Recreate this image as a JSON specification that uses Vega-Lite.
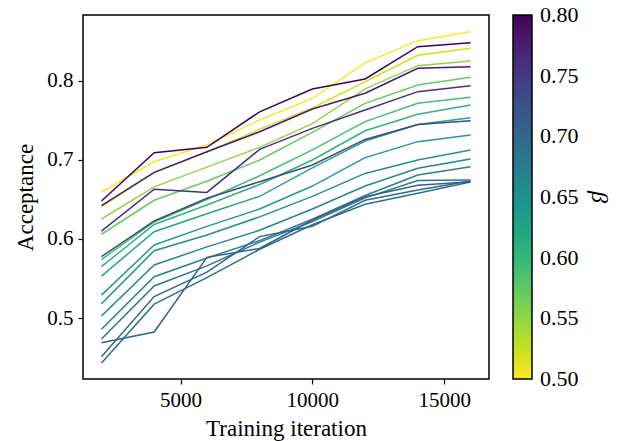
{
  "$schema": "https://vega.github.io/schema/vega-lite/v6.json",
  "width": 406,
  "height": 364,
  "autosize": {"type": "none"},
  "padding": {"left": 83, "top": 15, "right": 129, "bottom": 62},
  "background": "white",
  "config": {
    "font": "Liberation Serif",
    "view": {"stroke": "black", "strokeWidth": 1.5},
    "axis": {
      "domain": false,
      "grid": false,
      "ticks": true,
      "tickColor": "black",
      "tickSize": 5,
      "tickWidth": 1.2,
      "labelColor": "black",
      "labelFont": "Liberation Serif",
      "labelFontSize": 21,
      "labelPadding": 5,
      "titleFont": "Liberation Serif",
      "titleFontSize": 23,
      "titleFontWeight": "normal",
      "titleColor": "black"
    },
    "legend": {"padding": 0}
  },
  "data": {
    "values": [
      {"beta": 0.50, "iter": 2000, "acc": 0.6595}, {"beta": 0.50, "iter": 4000, "acc": 0.6978}, {"beta": 0.50, "iter": 6000, "acc": 0.719}, {"beta": 0.50, "iter": 8000, "acc": 0.7506}, {"beta": 0.50, "iter": 10000, "acc": 0.778}, {"beta": 0.50, "iter": 12000, "acc": 0.823}, {"beta": 0.50, "iter": 14000, "acc": 0.851}, {"beta": 0.50, "iter": 16000, "acc": 0.8624},
      {"beta": 0.52, "iter": 2000, "acc": 0.641}, {"beta": 0.52, "iter": 4000, "acc": 0.684}, {"beta": 0.52, "iter": 6000, "acc": 0.710}, {"beta": 0.52, "iter": 8000, "acc": 0.739}, {"beta": 0.52, "iter": 10000, "acc": 0.766}, {"beta": 0.52, "iter": 12000, "acc": 0.799}, {"beta": 0.52, "iter": 14000, "acc": 0.8325}, {"beta": 0.52, "iter": 16000, "acc": 0.8414},
      {"beta": 0.55, "iter": 2000, "acc": 0.6253}, {"beta": 0.55, "iter": 4000, "acc": 0.666}, {"beta": 0.55, "iter": 6000, "acc": 0.691}, {"beta": 0.55, "iter": 8000, "acc": 0.716}, {"beta": 0.55, "iter": 10000, "acc": 0.746}, {"beta": 0.55, "iter": 12000, "acc": 0.790}, {"beta": 0.55, "iter": 14000, "acc": 0.8194}, {"beta": 0.55, "iter": 16000, "acc": 0.8253},
      {"beta": 0.57, "iter": 2000, "acc": 0.606}, {"beta": 0.57, "iter": 4000, "acc": 0.649}, {"beta": 0.57, "iter": 6000, "acc": 0.673}, {"beta": 0.57, "iter": 8000, "acc": 0.700}, {"beta": 0.57, "iter": 10000, "acc": 0.735}, {"beta": 0.57, "iter": 12000, "acc": 0.7717}, {"beta": 0.57, "iter": 14000, "acc": 0.795}, {"beta": 0.57, "iter": 16000, "acc": 0.8047},
      {"beta": 0.59, "iter": 2000, "acc": 0.574}, {"beta": 0.59, "iter": 4000, "acc": 0.6215}, {"beta": 0.59, "iter": 6000, "acc": 0.650}, {"beta": 0.59, "iter": 8000, "acc": 0.680}, {"beta": 0.59, "iter": 10000, "acc": 0.7127}, {"beta": 0.59, "iter": 12000, "acc": 0.7485}, {"beta": 0.59, "iter": 14000, "acc": 0.7718}, {"beta": 0.59, "iter": 16000, "acc": 0.7794},
      {"beta": 0.605, "iter": 2000, "acc": 0.565}, {"beta": 0.605, "iter": 4000, "acc": 0.6184}, {"beta": 0.605, "iter": 6000, "acc": 0.643}, {"beta": 0.605, "iter": 8000, "acc": 0.669}, {"beta": 0.605, "iter": 10000, "acc": 0.700}, {"beta": 0.605, "iter": 12000, "acc": 0.737}, {"beta": 0.605, "iter": 14000, "acc": 0.7578}, {"beta": 0.605, "iter": 16000, "acc": 0.7696},
      {"beta": 0.62, "iter": 2000, "acc": 0.553}, {"beta": 0.62, "iter": 4000, "acc": 0.6092}, {"beta": 0.62, "iter": 6000, "acc": 0.632}, {"beta": 0.62, "iter": 8000, "acc": 0.654}, {"beta": 0.62, "iter": 10000, "acc": 0.690}, {"beta": 0.62, "iter": 12000, "acc": 0.724}, {"beta": 0.62, "iter": 14000, "acc": 0.745}, {"beta": 0.62, "iter": 16000, "acc": 0.7535},
      {"beta": 0.635, "iter": 2000, "acc": 0.529}, {"beta": 0.635, "iter": 4000, "acc": 0.5924}, {"beta": 0.635, "iter": 6000, "acc": 0.616}, {"beta": 0.635, "iter": 8000, "acc": 0.638}, {"beta": 0.635, "iter": 10000, "acc": 0.667}, {"beta": 0.635, "iter": 12000, "acc": 0.703}, {"beta": 0.635, "iter": 14000, "acc": 0.7232}, {"beta": 0.635, "iter": 16000, "acc": 0.7316},
      {"beta": 0.65, "iter": 2000, "acc": 0.518}, {"beta": 0.65, "iter": 4000, "acc": 0.5852}, {"beta": 0.65, "iter": 6000, "acc": 0.605}, {"beta": 0.65, "iter": 8000, "acc": 0.628}, {"beta": 0.65, "iter": 10000, "acc": 0.654}, {"beta": 0.65, "iter": 12000, "acc": 0.683}, {"beta": 0.65, "iter": 14000, "acc": 0.700}, {"beta": 0.65, "iter": 16000, "acc": 0.7127},
      {"beta": 0.66, "iter": 2000, "acc": 0.5025}, {"beta": 0.66, "iter": 4000, "acc": 0.5671}, {"beta": 0.66, "iter": 6000, "acc": 0.590}, {"beta": 0.66, "iter": 8000, "acc": 0.611}, {"beta": 0.66, "iter": 10000, "acc": 0.638}, {"beta": 0.66, "iter": 12000, "acc": 0.667}, {"beta": 0.66, "iter": 14000, "acc": 0.6895}, {"beta": 0.66, "iter": 16000, "acc": 0.7013},
      {"beta": 0.67, "iter": 2000, "acc": 0.4857}, {"beta": 0.67, "iter": 4000, "acc": 0.5523}, {"beta": 0.67, "iter": 6000, "acc": 0.576}, {"beta": 0.67, "iter": 8000, "acc": 0.598}, {"beta": 0.67, "iter": 10000, "acc": 0.625}, {"beta": 0.67, "iter": 12000, "acc": 0.655}, {"beta": 0.67, "iter": 14000, "acc": 0.681}, {"beta": 0.67, "iter": 16000, "acc": 0.6915},
      {"beta": 0.68, "iter": 2000, "acc": 0.4734}, {"beta": 0.68, "iter": 4000, "acc": 0.5405}, {"beta": 0.68, "iter": 6000, "acc": 0.566}, {"beta": 0.68, "iter": 8000, "acc": 0.596}, {"beta": 0.68, "iter": 10000, "acc": 0.622}, {"beta": 0.68, "iter": 12000, "acc": 0.652}, {"beta": 0.68, "iter": 14000, "acc": 0.674}, {"beta": 0.68, "iter": 16000, "acc": 0.6747},
      {"beta": 0.69, "iter": 2000, "acc": 0.443}, {"beta": 0.69, "iter": 4000, "acc": 0.5175}, {"beta": 0.69, "iter": 6000, "acc": 0.551}, {"beta": 0.69, "iter": 8000, "acc": 0.587}, {"beta": 0.69, "iter": 10000, "acc": 0.618}, {"beta": 0.69, "iter": 12000, "acc": 0.644}, {"beta": 0.69, "iter": 14000, "acc": 0.658}, {"beta": 0.69, "iter": 16000, "acc": 0.672},
      {"beta": 0.70, "iter": 2000, "acc": 0.451}, {"beta": 0.70, "iter": 4000, "acc": 0.5272}, {"beta": 0.70, "iter": 6000, "acc": 0.558}, {"beta": 0.70, "iter": 8000, "acc": 0.603}, {"beta": 0.70, "iter": 10000, "acc": 0.616}, {"beta": 0.70, "iter": 12000, "acc": 0.649}, {"beta": 0.70, "iter": 14000, "acc": 0.662}, {"beta": 0.70, "iter": 16000, "acc": 0.6735},
      {"beta": 0.71, "iter": 2000, "acc": 0.4687}, {"beta": 0.71, "iter": 4000, "acc": 0.4823}, {"beta": 0.71, "iter": 6000, "acc": 0.5768}, {"beta": 0.71, "iter": 8000, "acc": 0.588}, {"beta": 0.71, "iter": 10000, "acc": 0.624}, {"beta": 0.71, "iter": 12000, "acc": 0.6535}, {"beta": 0.71, "iter": 14000, "acc": 0.668}, {"beta": 0.71, "iter": 16000, "acc": 0.6725},
      {"beta": 0.735, "iter": 2000, "acc": 0.5776}, {"beta": 0.735, "iter": 4000, "acc": 0.6228}, {"beta": 0.735, "iter": 6000, "acc": 0.6515}, {"beta": 0.735, "iter": 8000, "acc": 0.6725}, {"beta": 0.735, "iter": 10000, "acc": 0.6937}, {"beta": 0.735, "iter": 12000, "acc": 0.726}, {"beta": 0.735, "iter": 14000, "acc": 0.745}, {"beta": 0.735, "iter": 16000, "acc": 0.7497},
      {"beta": 0.76, "iter": 2000, "acc": 0.610}, {"beta": 0.76, "iter": 4000, "acc": 0.663}, {"beta": 0.76, "iter": 6000, "acc": 0.659}, {"beta": 0.76, "iter": 8000, "acc": 0.7135}, {"beta": 0.76, "iter": 10000, "acc": 0.740}, {"beta": 0.76, "iter": 12000, "acc": 0.7633}, {"beta": 0.76, "iter": 14000, "acc": 0.7865}, {"beta": 0.76, "iter": 16000, "acc": 0.794},
      {"beta": 0.78, "iter": 2000, "acc": 0.6422}, {"beta": 0.78, "iter": 4000, "acc": 0.6844}, {"beta": 0.78, "iter": 6000, "acc": 0.7105}, {"beta": 0.78, "iter": 8000, "acc": 0.7358}, {"beta": 0.78, "iter": 10000, "acc": 0.7646}, {"beta": 0.78, "iter": 12000, "acc": 0.7844}, {"beta": 0.78, "iter": 14000, "acc": 0.816}, {"beta": 0.78, "iter": 16000, "acc": 0.818},
      {"beta": 0.80, "iter": 2000, "acc": 0.648}, {"beta": 0.80, "iter": 4000, "acc": 0.7093}, {"beta": 0.80, "iter": 6000, "acc": 0.716}, {"beta": 0.80, "iter": 8000, "acc": 0.761}, {"beta": 0.80, "iter": 10000, "acc": 0.7899}, {"beta": 0.80, "iter": 12000, "acc": 0.8025}, {"beta": 0.80, "iter": 14000, "acc": 0.8434}, {"beta": 0.80, "iter": 16000, "acc": 0.8485}
    ]
  },
  "mark": {"type": "line", "strokeWidth": 1.5, "clip": true},
  "encoding": {
    "x": {
      "field": "iter", "type": "quantitative",
      "scale": {"domain": [1300, 16700], "nice": false, "zero": false},
      "axis": {"values": [5000, 10000, 15000], "format": "d", "title": "Training iteration", "titlePadding": 7}
    },
    "y": {
      "field": "acc", "type": "quantitative",
      "scale": {"domain": [0.4228, 0.8835], "nice": false, "zero": false},
      "axis": {"values": [0.5, 0.6, 0.7, 0.8], "format": ".1f", "title": "Acceptance", "titlePadding": 9}
    },
    "color": {
      "field": "beta", "type": "quantitative",
      "scale": {"scheme": "viridis", "reverse": true, "domain": [0.5, 0.8], "nice": false},
      "legend": {
        "title": "β",
        "titleOrient": "right",
        "titleFont": "Liberation Serif",
        "titleFontSize": 24,
        "titleFontStyle": "italic",
        "titleFontWeight": "normal",
        "titleColor": "black",
        "titleAnchor": "middle",
        "titlePadding": 8,
        "offset": 24,
        "direction": "vertical",
        "gradientLength": 364,
        "gradientThickness": 19,
        "gradientStrokeColor": "black",
        "gradientStrokeWidth": 1.5,
        "values": [0.5, 0.55, 0.6, 0.65, 0.7, 0.75, 0.8],
        "format": ".2f",
        "labelFont": "Liberation Serif",
        "labelFontSize": 22,
        "labelColor": "black",
        "labelOffset": 8,
        "labelOverlap": false,
        "encode": {"labels": {"update": {"baseline": {"value": "middle"}}}}
      }
    },
    "detail": {"field": "beta", "type": "nominal"}
  }
}
